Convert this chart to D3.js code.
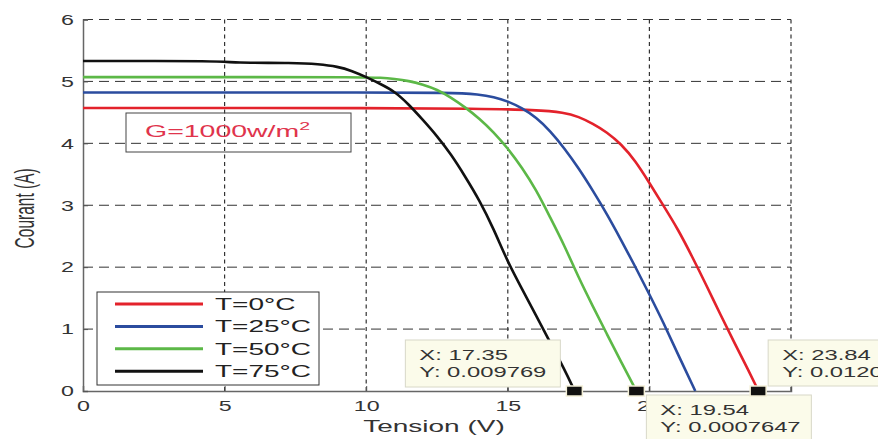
<!DOCTYPE html>
<html>
<head>
<meta charset="utf-8">
<script src="https://cdn.jsdelivr.net/npm/d3@7"></script>
<style>
  body { margin: 0; background: #fff; }
  svg { display: block; font-family: 'Liberation Sans', Arial, sans-serif; }
</style>
</head>
<body>
<svg width="878" height="439"></svg>
<script>
// I-V curves of a PV module, G = 1000 W/m2, four temperatures
const temperatures = ['T=0°C', 'T=25°C', 'T=50°C', 'T=75°C']
const colors = ['#e3222b', '#2b4c9e', '#5cb847', '#111111']

const tensionT0 = [0, 5, 10, 14, 16, 17, 17.5, 18, 18.5, 19, 19.5, 20, 20.5, 21, 21.5, 22, 22.5, 23, 23.5, 23.84]
const courantT0 = [4.57, 4.57, 4.57, 4.56, 4.54, 4.50, 4.43, 4.32, 4.18, 3.99, 3.72, 3.36, 2.99, 2.62, 2.18, 1.72, 1.24, 0.78, 0.33, 0.012]

const tensionT25 = [0, 5, 10, 13, 14, 14.5, 15, 15.5, 16, 16.5, 17, 17.5, 18, 18.5, 19, 19.5, 20, 20.5, 21, 21.62]
const courantT25 = [4.82, 4.82, 4.82, 4.82, 4.79, 4.75, 4.68, 4.57, 4.42, 4.20, 3.92, 3.60, 3.24, 2.86, 2.44, 2.01, 1.56, 1.10, 0.60, 0]

const tensionT50 = [0, 5, 10, 10.5, 11, 11.5, 12, 12.5, 13, 13.5, 14, 14.5, 15, 15.5, 16, 16.5, 17, 17.5, 18, 18.5, 19, 19.54]
const courantT50 = [5.07, 5.07, 5.07, 5.06, 5.04, 5.01, 4.95, 4.87, 4.74, 4.58, 4.40, 4.18, 3.92, 3.61, 3.25, 2.80, 2.35, 1.83, 1.37, 0.92, 0.47, 0.0007647]

const tensionT75 = [0, 5, 5.2, 7.5, 8.3, 9, 9.5, 10, 10.5, 11, 11.5, 12, 12.5, 13, 13.5, 14, 14.5, 15, 15.5, 16, 16.5, 17, 17.35]
const courantT75 = [5.33, 5.33, 5.30, 5.30, 5.28, 5.24, 5.17, 5.07, 4.96, 4.84, 4.63, 4.38, 4.12, 3.82, 3.46, 3.08, 2.62, 2.08, 1.65, 1.22, 0.78, 0.35, 0.009769]

// data tips shown on the figure
const tipX = ['17.35', '19.54', '23.84']
const tipY = ['0.009769', '0.0007647', '0.0120']

const xTicks = [0, 5, 10, 15, 20, 25]
const yTicks = [0, 1, 2, 3, 4, 5, 6]

const tensions = [tensionT0, tensionT25, tensionT50, tensionT75]
const courants = [courantT0, courantT25, courantT50, courantT75]
const series = temperatures.map((name, k) => ({
  name,
  color: colors[k],
  points: tensions[k].map((v, i) => [v, courants[k][i]])
}))

const width = 878
const height = 439
const margin = { top: 19.5, right: 87, bottom: 48, left: 83 }
const stretch = 1.55
const wide = 1.75

const svg = d3.select('svg')

const x = d3.scaleLinear().domain([0, 25]).range([margin.left, width - margin.right])
const y = d3.scaleLinear().domain([0, 6]).range([height - margin.bottom, margin.top])

// grid
svg.append('g')
  .selectAll('line')
  .data(yTicks.filter(d => d > 0))
  .join('line')
  .attr('x1', x(0)).attr('x2', x(25))
  .attr('y1', d => y(d)).attr('y2', d => y(d))
  .attr('stroke', '#333').attr('stroke-width', 1)
  .attr('stroke-dasharray', '10,6')

svg.append('g')
  .selectAll('line')
  .data(xTicks.filter(d => d > 0))
  .join('line')
  .attr('x1', d => x(d)).attr('x2', d => x(d))
  .attr('y1', y(0)).attr('y2', y(6))
  .attr('stroke', '#333').attr('stroke-width', 1.2)
  .attr('stroke-dasharray', '4,3.5')

// axes
const xAxis = svg.append('g')
  .attr('transform', `translate(0,${y(0)})`)
  .call(d3.axisBottom(x).tickValues(xTicks).tickFormat(d3.format('d')).tickSize(-5).tickPadding(9))
const yAxis = svg.append('g')
  .attr('transform', `translate(${x(0)},0)`)
  .call(d3.axisLeft(y).tickValues(yTicks).tickFormat(d3.format('d')).tickSize(-5).tickPadding(7))

;[xAxis, yAxis].forEach(g => {
  g.select('.domain').attr('stroke', '#666').attr('stroke-width', 1.5)
  g.selectAll('.tick line').attr('stroke', '#555')
  g.selectAll('.tick text')
    .attr('fill', '#333')
    .attr('font-size', 15)
    .attr('font-family', "'Liberation Sans', Arial, sans-serif")
})
xAxis.selectAll('.tick text').attr('transform', `scale(${stretch},1)`)
yAxis.selectAll('.tick text')
  .attr('x', -9 / stretch)
  .attr('transform', `scale(${stretch},1)`)

// axis titles
svg.append('text')
  .attr('transform', `translate(${(x(0) + x(25)) / 2 - 3},${y(0) + 41}) scale(${wide},1)`)
  .attr('text-anchor', 'middle')
  .attr('font-size', 16)
  .attr('fill', '#333')
  .text('Tension (V)')

svg.append('text')
  .attr('transform', `translate(34,${y(2.95)}) scale(${wide},1) rotate(-90)`)
  .attr('text-anchor', 'middle')
  .attr('font-size', 15.5)
  .attr('fill', '#333')
  .text('Courant (A)')

// curves
const line = d3.line()
  .x(d => x(d[0]))
  .y(d => y(d[1]))
  .curve(d3.curveBasis)

svg.append('g')
  .selectAll('path')
  .data(series)
  .join('path')
  .attr('fill', 'none')
  .attr('stroke', d => d.color)
  .attr('stroke-width', 2.6)
  .attr('stroke-linejoin', 'round')
  .attr('d', d => line(d.points))

// irradiance label
const gBox = svg.append('g').attr('transform', 'translate(126,113)')
gBox.append('rect')
  .attr('width', 225).attr('height', 39)
  .attr('fill', 'none').attr('stroke', '#444').attr('stroke-width', 1)
const gText = gBox.append('text')
  .attr('transform', 'translate(19,24) scale(1.78,1)')
  .attr('font-size', 16)
  .attr('fill', '#e0344c')
gText.append('tspan').text('G=1000w/m')
gText.append('tspan').attr('font-size', 11).attr('dy', -7).text('2')

// legend
const legend = svg.append('g').attr('transform', 'translate(97,292)')
legend.append('rect')
  .attr('width', 222).attr('height', 93)
  .attr('fill', '#fff').attr('stroke', '#333').attr('stroke-width', 1)
const item = legend.selectAll('g.item')
  .data(series)
  .join('g')
  .attr('class', 'item')
  .attr('transform', (d, i) => `translate(0,${12 + i * 22.4})`)
item.append('line')
  .attr('x1', 18).attr('x2', 106)
  .attr('stroke', d => d.color).attr('stroke-width', 3)
item.append('text')
  .attr('transform', `translate(118,6) scale(${wide},1)`)
  .attr('font-size', 16)
  .attr('fill', '#222')
  .text(d => d.name)

// data tips (the last one runs past the right edge, as in the original)
const tipLayout = [
  { dx: -169, dy: -51, w: 155, h: 47 },
  { dx: 10, dy: 4, w: 165, h: 60 },
  { dx: 10, dy: -51, w: 200, h: 46 }
]
const tips = svg.append('g')
  .selectAll('g')
  .data(tipX.map((xs, i) => ({ x: +xs, xs, ys: tipY[i], lay: tipLayout[i] })))
  .join('g')
  .attr('transform', d => `translate(${x(d.x)},${y(0)})`)

tips.append('rect')
  .attr('x', d => d.lay.dx).attr('y', d => d.lay.dy)
  .attr('width', d => d.lay.w).attr('height', d => d.lay.h)
  .attr('fill', '#fbfbea').attr('stroke', '#d8d8c8').attr('stroke-width', 1)
tips.append('text')
  .attr('transform', d => `translate(${d.lay.dx + 14},${d.lay.dy + 20}) scale(1.7,1)`)
  .attr('font-size', 14)
  .attr('fill', '#333')
  .text(d => 'X: ' + d.xs)
tips.append('text')
  .attr('transform', d => `translate(${d.lay.dx + 14},${d.lay.dy + 37}) scale(1.7,1)`)
  .attr('font-size', 14)
  .attr('fill', '#333')
  .text(d => 'Y: ' + d.ys)
tips.append('rect')
  .attr('x', -8).attr('y', -5)
  .attr('width', 16).attr('height', 10)
  .attr('fill', '#111').attr('stroke', '#f4f0d8').attr('stroke-width', 1.5)
</script>
</body>
</html>
